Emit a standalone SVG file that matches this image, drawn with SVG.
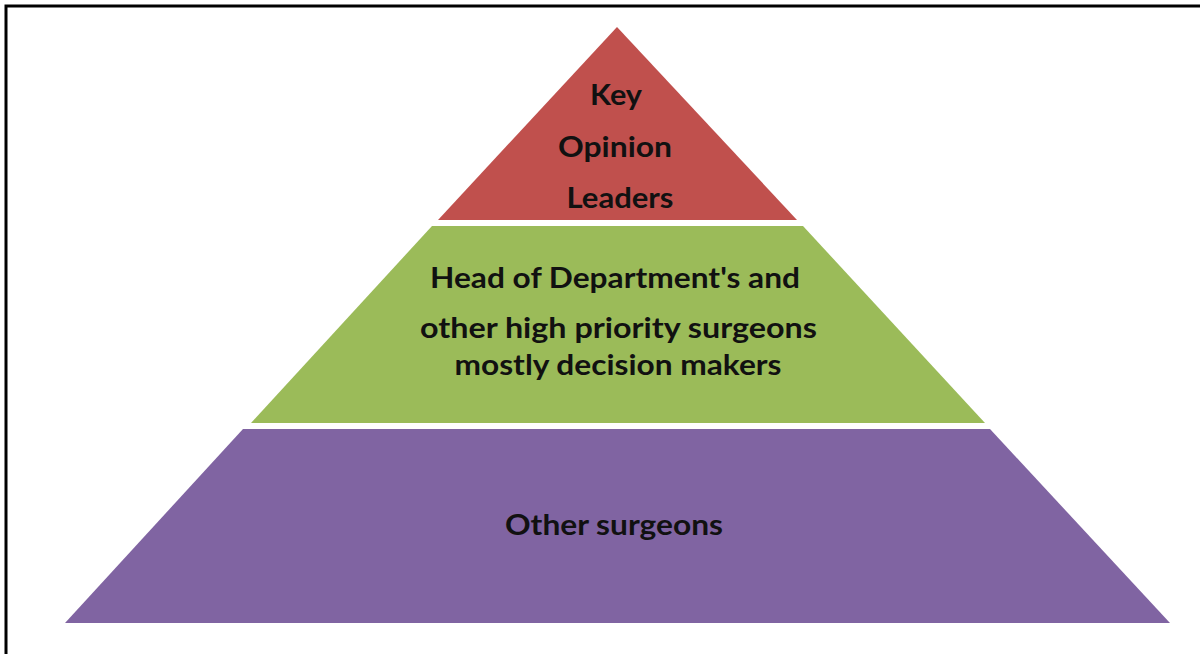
<svg xmlns="http://www.w3.org/2000/svg" width="1200" height="654" viewBox="0 0 1200 654">
<style>
.t{font-family:Lato,"Open Sans","Liberation Sans",sans-serif;font-weight:bold;fill:#111;text-anchor:middle}
</style>
<rect x="0" y="0" width="1200" height="654" fill="#fff"/>
<rect x="6" y="6" width="1210" height="700" fill="none" stroke="#000" stroke-width="3"/>
<g id="connectors"/>
<g id="top">
<polygon points="617,27 797,220 438,220" fill="#C0504D"/>
<text class="t" x="616" y="105" font-size="28" textLength="52" lengthAdjust="spacingAndGlyphs">Key</text>
<text class="t" x="615" y="157" font-size="28" textLength="114" lengthAdjust="spacingAndGlyphs">Opinion</text>
<text class="t" x="620" y="208" font-size="28" textLength="107" lengthAdjust="spacingAndGlyphs">Leaders</text>
</g>
<g id="middle">
<polygon points="432,226 803,226 985,423 251,423" fill="#9BBB59"/>
<text class="t" x="615" y="288" font-size="28" textLength="370" lengthAdjust="spacingAndGlyphs">Head of Department's and</text>
<text class="t" x="618.5" y="338" font-size="28" textLength="397" lengthAdjust="spacingAndGlyphs">other high priority surgeons</text>
<text class="t" x="618" y="375" font-size="28" textLength="327" lengthAdjust="spacingAndGlyphs">mostly decision makers</text>
</g>
<g id="bottom">
<polygon points="243,429 990,429 1170,623 65,623" fill="#8064A2"/>
<text class="t" x="614" y="535" font-size="28" textLength="218" lengthAdjust="spacingAndGlyphs">Other surgeons</text>
</g>
</svg>
